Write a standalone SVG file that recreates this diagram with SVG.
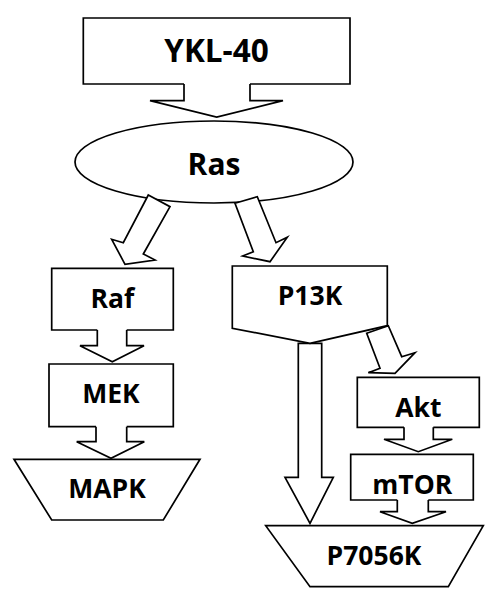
<svg xmlns="http://www.w3.org/2000/svg" width="500" height="603" viewBox="0 0 500 603">
<style>
.s{fill:#fff;stroke:#000;stroke-width:1.7;stroke-linejoin:miter}
.t{font-family:"Open Sans","Liberation Sans",sans-serif;font-weight:bold;font-size:26.5px;text-anchor:middle;fill:#000}
</style>
<rect width="500" height="603" fill="#fff"/>
<g id="connectors">
<path class="s" d="M184,83 L184,100.7 L150,100.7 L216.7,117 L283,100.7 L250,100.7 L250,83"/>
<path class="s" d="M97.3,329 L97.3,345.7 L80,345.7 L112.3,361.7 L144,345.7 L126.7,345.7 L126.7,329"/>
<path class="s" d="M96,425.7 L96,441.7 L76.7,441.7 L111,458.3 L144.3,441.7 L126.7,441.7 L126.7,425.7"/>
<path class="s" d="M404,426.3 L404,439.3 L384,439.3 L418.3,451.7 L452.3,439.3 L433.3,439.3 L433.3,426.3"/>
<path class="s" d="M397.3,499 L397.3,511.7 L380,511.7 L412.3,523.3 L446,511.7 L428.3,511.7 L428.3,499"/>
<polygon class="s" points="298.3,343.3 321.7,343.3 321.7,477.3 333.3,477.3 310,523.3 285,477.3 298.3,477.3"/>
<polygon class="s" points="366.7,333.3 388.3,325.7 401.7,356.7 415,352.7 395,373.3 368.3,372.7 380,368.3"/>
</g>
<g id="ykl40">
<path class="s" d="M184,84 L83.3,84 L83.3,18 L350,18 L350,84 L250,84"/>
<text class="t" x="216.5" y="62" style="font-size:31.5px">YKL-40</text>
</g>
<g id="ras">
<ellipse class="s" cx="214" cy="162" rx="139" ry="41"/>
<text class="t" x="214" y="175" style="font-size:30px">Ras</text>
</g>
<g id="connectors-ras">
<polygon class="s" points="148.3,195 170,206.7 143.3,254 155,260 125,264.3 111.7,239.3 123.3,242.7"/>
<polygon class="s" points="235,203.3 257.3,196.7 276,242.7 287.3,237.3 270,261.7 242.7,256 253.3,251.7"/>
</g>
<g id="raf">
<path class="s" d="M97.3,330 L51.7,330 L51.7,268.3 L173.3,268.3 L173.3,330 L126.7,330"/>
<text class="t" x="112.5" y="307.7">Raf</text>
</g>
<g id="mek">
<path class="s" d="M96,426.7 L49,426.7 L49,364 L173.3,364 L173.3,426.7 L126.7,426.7"/>
<text class="t" x="111" y="403.3">MEK</text>
</g>
<g id="mapk">
<polygon class="s" points="14,459.3 200,459.3 163.3,520 51.7,520"/>
<text class="t" x="107" y="498.3">MAPK</text>
</g>
<g id="p13k">
<polygon class="s" points="232.3,266 387.3,266 387.3,325.7 310,343.3 232.3,328.3"/>
<text class="t" x="310" y="305">P13K</text>
</g>
<g id="akt">
<path class="s" d="M404,427.3 L357.3,427.3 L357.3,377.3 L479.3,377.3 L479.3,427.3 L433.3,427.3"/>
<text class="t" x="418.3" y="417.3">Akt</text>
</g>
<g id="mtor">
<path class="s" d="M397.3,500 L350.7,500 L350.7,454.3 L473.3,454.3 L473.3,500 L428.3,500"/>
<text class="t" x="412.3" y="494.3">mTOR</text>
</g>
<g id="p7056k">
<polygon class="s" points="265.7,525.7 483.3,525.7 448.3,586.7 310,586.7"/>
<text class="t" x="374" y="565">P7056K</text>
</g>
</svg>
